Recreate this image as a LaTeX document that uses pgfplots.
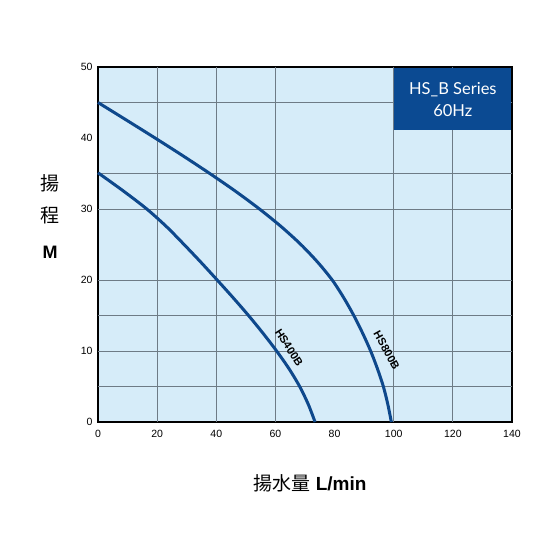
\documentclass[border=0pt]{standalone}
\usepackage{pgfplots}
\pgfplotsset{compat=1.18}
\usepackage{fontspec}
\setmainfont{Liberation Sans}
\newfontfamily\cjk{Noto Sans CJK JP}
\newfontfamily\boxfont{Lato}
\definecolor{curve}{HTML}{0E488C}
\definecolor{bg}{HTML}{D6ECF9}
\definecolor{gridc}{HTML}{6E7B86}
\definecolor{boxc}{HTML}{0B4A92}
\begin{document}
\begin{tikzpicture}[x=1pt,y=1pt]
\path[use as bounding box] (0,0) rectangle (560,560);
\begin{axis}[
  at={(98pt,138pt)}, anchor=south west,
  scale only axis, width=414pt, height=355pt,
  xmin=0, xmax=140, ymin=0, ymax=50,
  xtick={0,20,...,140}, ytick={0,10,...,50},
  extra x ticks={20,40,60,100,120}, extra x tick labels={},
  extra y ticks={5,10,15,20,30,35,45}, extra y tick labels={},
  extra x tick style={grid=major, major grid style={gridc, line width=0.8pt}},
  extra y tick style={grid=major, major grid style={gridc, line width=0.8pt}},
  major tick length=0pt,
  axis line style={black, line width=2.5pt},
  axis background/.style={fill=bg},
  /pgf/number format/assume math mode=true,
  tick label style={font=\fontsize{10.5}{12}\selectfont},
  xticklabel style={yshift=-5pt},
  yticklabel style={xshift=-2pt},
  clip=false,
]
\fill[boxc] (axis cs:100,41.1) rectangle (axis cs:139.6,49.8);
\node[white, align=center, font=\boxfont\fontsize{16.5}{22}\selectfont] at (axis cs:120,45.4) {HS\_B Series\\60Hz};
\addplot[curve, line width=3pt, smooth, tension=0.5] coordinates {
 (0,45.0) (9.7,42.5) (19.3,40.0) (28.7,37.5) (37.8,35.0) (46.5,32.5) (54.6,30.0) (62.0,27.5) (68.6,25.0) (74.3,22.5) (79.2,20.0) (83.1,17.5) (86.5,15.0) (89.5,12.5) (92.2,10.0) (94.5,7.5) (96.5,5.0) (98.0,2.5) (99.2,0)
};
\addplot[curve, line width=3pt, smooth, tension=0.5] coordinates {
 (0,35.1) (8.7,32.5) (16.5,30.0) (23.2,27.5) (29.1,25.0) (34.8,22.5) (40.3,20.0) (45.7,17.5) (50.9,15.0) (55.8,12.5) (60.4,10.0) (64.6,7.5) (68.2,5.0) (71.1,2.5) (73.4,0)
};
\node[rotate=-57, font=\bfseries\fontsize{11}{13}\selectfont] at (axis cs:64.6,10.5) {HS400B};
\node[rotate=-61, font=\bfseries\fontsize{11}{13}\selectfont] at (axis cs:97.6,10.1) {HS800B};
\end{axis}
\node[font=\cjk\fontsize{19}{22}\selectfont] at (50,377) {揚};
\node[font=\cjk\fontsize{19}{22}\selectfont] at (50,345) {程};
\node[font=\bfseries\fontsize{18}{22}\selectfont] at (50,308) {M};
\node[font=\fontsize{19}{22}\selectfont] at (310,77) {{\cjk 揚水量} \textbf{L/min}};
\end{tikzpicture}
\end{document}
